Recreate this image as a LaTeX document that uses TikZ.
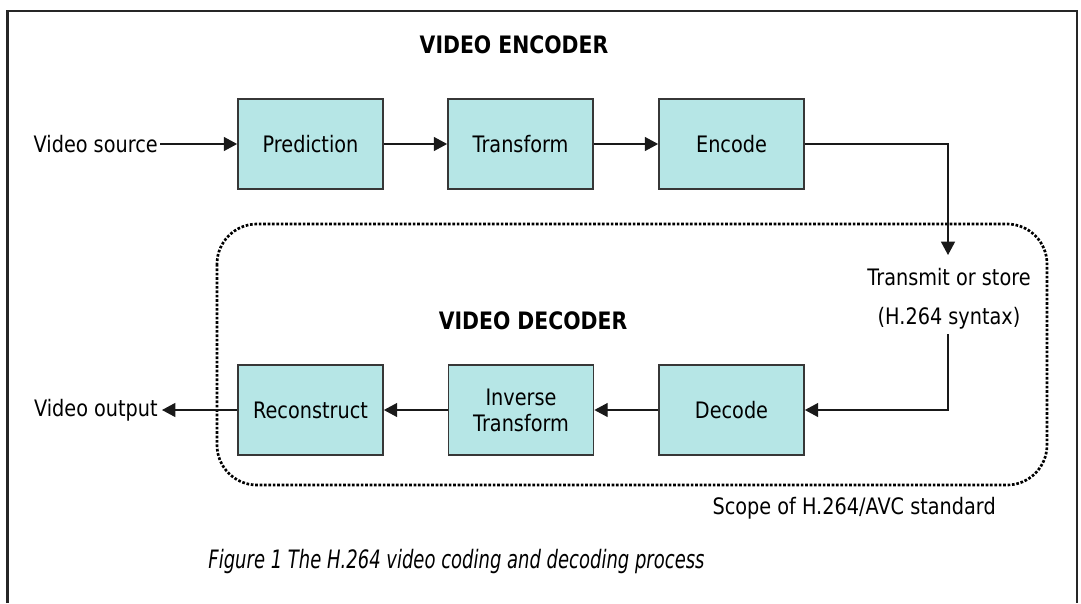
\documentclass[tikz,border=0pt]{standalone}
\usepackage{fontspec}
\setmainfont{DejaVu Sans}[FakeStretch=0.85]
\newfontfamily\capfont{DejaVu Sans}[FakeStretch=0.71]
\usetikzlibrary{arrows.meta}
\definecolor{boxfill}{RGB}{182,230,230}
\definecolor{boxline}{RGB}{55,55,55}
\begin{document}
\begin{tikzpicture}[x=0.75pt,y=-0.75pt,
  blk/.style={draw=boxline,fill=boxfill,line width=1.3pt,minimum width=108.75pt,minimum height=67.5pt,inner sep=0pt,align=center,font=\fontsize{17}{19.5}\selectfont},
  lbl/.style={inner sep=0pt,font=\fontsize{17}{19.5}\selectfont},
  hdr/.style={inner sep=0pt,font=\fontsize{18}{20}\selectfont\bfseries},
  arr/.style={draw=black!90,line width=1pt,-{Triangle[length=10pt,width=10.5pt]}},
  scope/.style={draw=black,line width=2pt,dash pattern=on 2pt off 1.3pt,rounded corners=30pt}]
\useasboundingbox (0,0) rectangle (1081,603);
% frame
\draw[line width=1.7pt,black!85] (7.5,603) -- (7.5,11) -- (1077,11) -- (1077,603);
% scope
\draw[scope] (217,224) rectangle (1047,485);
% headings
\node[hdr] (enchdr) at (514,45) {VIDEO ENCODER};
\node[hdr] (dechdr) at (533,321) {VIDEO DECODER};
% encoder row
\node[blk] (pred) at (310.5,144) {Prediction};
\node[blk] (tran) at (520.5,144) {Transform};
\node[blk] (enc) at (731.5,144) {Encode};
\node[lbl,anchor=east] (src) at (158,144) {Video source};
% decoder row
\node[blk] (rec) at (310.5,410) {Reconstruct};
\node[blk] (itr) at (521,410) {Inverse\\Transform};
\node[blk] (dec) at (731.5,410) {Decode};
\node[lbl,anchor=east] (out) at (158,410) {Video output};
% transmit
\node[lbl] (tx1) at (949,277) {Transmit or store};
\node[lbl] (tx2) at (949,318) {(H.264 syntax)};
\coordinate (tin) at (948,255);
\coordinate (tout) at (948,334);
\node[lbl,anchor=east] (scl) at (996,508) {Scope of H.264/AVC standard};
\node[inner sep=0pt,font=\capfont\itshape\fontsize{19}{22}\selectfont] (cap) at (456.5,562) {Figure 1 The H.264 video coding and decoding process};
% connectors
\draw[arr] (src.east) ++(2,0) -- (pred.west);
\draw[arr] (pred) -- (tran);
\draw[arr] (tran) -- (enc);
\draw[arr] (enc.east) -| (tin);
\draw[arr] (tout) |- (dec.east);
\draw[arr] (dec) -- (itr);
\draw[arr] (itr) -- (rec);
\draw[arr] (rec.west) -- ([xshift=3pt]out.east);
\end{tikzpicture}
\end{document}
